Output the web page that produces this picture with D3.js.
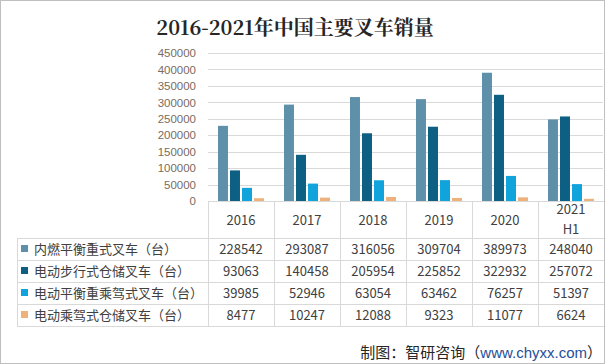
<!DOCTYPE html>
<html>
<head>
<meta charset="utf-8">
<script src="https://cdn.jsdelivr.net/npm/d3@7"></script>
<style>
  body { margin: 0; background: #fff; }
  svg { display: block; }
</style>
</head>
<body>
<div class="chart"></div>
<script>
const years = ["2016", "2017", "2018", "2019", "2020", "2021\nH1"];
const seriesNames = ["内燃平衡重式叉车（台）", "电动步行式仓储叉车（台）", "电动平衡重乘驾式叉车（台）", "电动乘驾式仓储叉车（台）"];
const combustion = [228542, 293087, 316056, 309704, 389973, 248040];
const electricWalk = [93063, 140458, 205954, 225852, 322932, 257072];
const electricRide = [39985, 52946, 63054, 63462, 76257, 51397];
const electricStorage = [8477, 10247, 12088, 9323, 11077, 6624];
const yTicks = [0, 50000, 100000, 150000, 200000, 250000, 300000, 350000, 400000, 450000];
const colors = ["#5f90a9", "#0d5f83", "#11a3dc", "#efb17c"];

const series = [combustion, electricWalk, electricRide, electricStorage];

const width = 605;
const height = 364;
const font = "'Noto Sans CJK SC', 'Noto Sans', sans-serif";

const svg = d3.select('.chart')
  .append('svg')
  .attr('width', width)
  .attr('height', height);

// outer frame
svg.append("rect")
  .attr("x", 0.5).attr("y", 0.5)
  .attr("width", width - 1).attr("height", height - 1)
  .attr("fill", "#fff")
  .attr("stroke", "#bfbfbf");

svg.append("text")
  .text("2016-2021年中国主要叉车销量")
  .attr("x", 295)
  .attr("y", 35)
  .attr("text-anchor", "middle")
  .attr("font-family", "'Noto Serif CJK SC', 'Noto Sans CJK SC', serif")
  .attr("font-weight", "bold")
  .attr("font-size", 20)
  .attr("fill", "#262626");

const x = d3.scaleBand()
  .domain(years)
  .range([208, 604]);

const y = d3.scaleLinear()
  .domain([0, 450000])
  .range([201, 53]);

const inner = d3.scaleBand()
  .domain(d3.range(4))
  .range([0, 46])
  .paddingInner(0.17);

// gridlines
svg.append("g")
  .selectAll("line")
  .data(yTicks.slice(1))
  .enter()
  .append("line")
  .attr("x1", 208)
  .attr("x2", 603)
  .attr("y1", d => Math.round(y(d)) + 0.5)
  .attr("y2", d => Math.round(y(d)) + 0.5)
  .attr("stroke", "#d9d9d9");

// y labels
const yAxis = svg.append("g")
  .attr("transform", "translate(208,0)")
  .call(d3.axisLeft(y).tickValues(yTicks).tickSize(0).tickPadding(12).tickFormat(d3.format("d")));
yAxis.select(".domain").remove();
yAxis.selectAll("text")
  .attr("font-family", "'Liberation Sans', Arial, sans-serif")
  .attr("font-size", 11.5)
  .attr("fill", "#7a6b5d");

// bars
series.forEach((vals, s) => {
  svg.append("g")
    .selectAll("rect")
    .data(vals)
    .enter()
    .append("rect")
    .attr("x", (d, i) => x(years[i]) + (x.bandwidth() - 46) / 2 + inner(s))
    .attr("width", inner.bandwidth())
    .attr("y", d => y(d))
    .attr("height", d => y(0) - y(d))
    .attr("fill", colors[s]);
});

// data table
const rowTop = 238;
const rowH = 22;
const grid = svg.append("g").attr("stroke", "#d9d9d9").attr("fill", "none");

// horizontal lines
grid.append("line").attr("x1", 208).attr("x2", 604).attr("y1", 201.5).attr("y2", 201.5);
for (let r = 0; r <= 4; r++) {
  grid.append("line")
    .attr("x1", 17).attr("x2", 604)
    .attr("y1", rowTop + r * rowH + 0.5)
    .attr("y2", rowTop + r * rowH + 0.5);
}
// vertical lines
grid.append("line").attr("x1", 17.5).attr("x2", 17.5).attr("y1", rowTop).attr("y2", rowTop + 4 * rowH);
years.forEach(yr => {
  grid.append("line")
    .attr("x1", Math.round(x(yr)) + 0.5).attr("x2", Math.round(x(yr)) + 0.5)
    .attr("y1", 201).attr("y2", rowTop + 4 * rowH);
});

// header
svg.append("g")
  .selectAll("text")
  .data(years)
  .enter()
  .append("text")
  .attr("x", d => x(d) + x.bandwidth() / 2)
  .attr("y", d => d.includes("\n") ? 214 : 225)
  .attr("text-anchor", "middle")
  .attr("font-family", font)
  .attr("font-size", 13)
  .attr("fill", "#404040")
  .each(function(d) {
    const parts = d.split("\n");
    parts.forEach((p, i) => {
      d3.select(this).append("tspan")
        .attr("x", x(d) + x.bandwidth() / 2)
        .attr("dy", i == 0 ? 0 : 20)
        .text(p);
    });
  });

// row labels and values
series.forEach((vals, s) => {
  const cy = rowTop + s * rowH + rowH / 2;
  svg.append("rect")
    .attr("x", 21).attr("y", cy - 4)
    .attr("width", 7).attr("height", 7)
    .attr("fill", colors[s]);
  svg.append("text")
    .text(seriesNames[s])
    .attr("x", 34).attr("y", cy + 5)
    .attr("font-family", font)
    .attr("font-size", 13)
    .attr("fill", "#404040");
  svg.append("g")
    .selectAll("text")
    .data(vals)
    .enter()
    .append("text")
    .text(d => d)
    .attr("x", (d, i) => x(years[i]) + x.bandwidth() / 2)
    .attr("y", cy + 5)
    .attr("text-anchor", "middle")
    .attr("font-family", font)
    .attr("font-size", 13)
    .attr("fill", "#404040");
});

// source
const src = svg.append("text")
  .attr("x", 602)
  .attr("y", 358)
  .attr("text-anchor", "end")
  .attr("font-family", font)
  .attr("font-size", 15)
  .attr("fill", "#262626");
src.append("tspan").text("制图：智研咨询（");
src.append("tspan").text("www.chyxx.com").attr("fill", "#1f4e9a").attr("font-family", "'Liberation Sans', Arial, sans-serif");
src.append("tspan").text("）");
</script>
</body>
</html>
